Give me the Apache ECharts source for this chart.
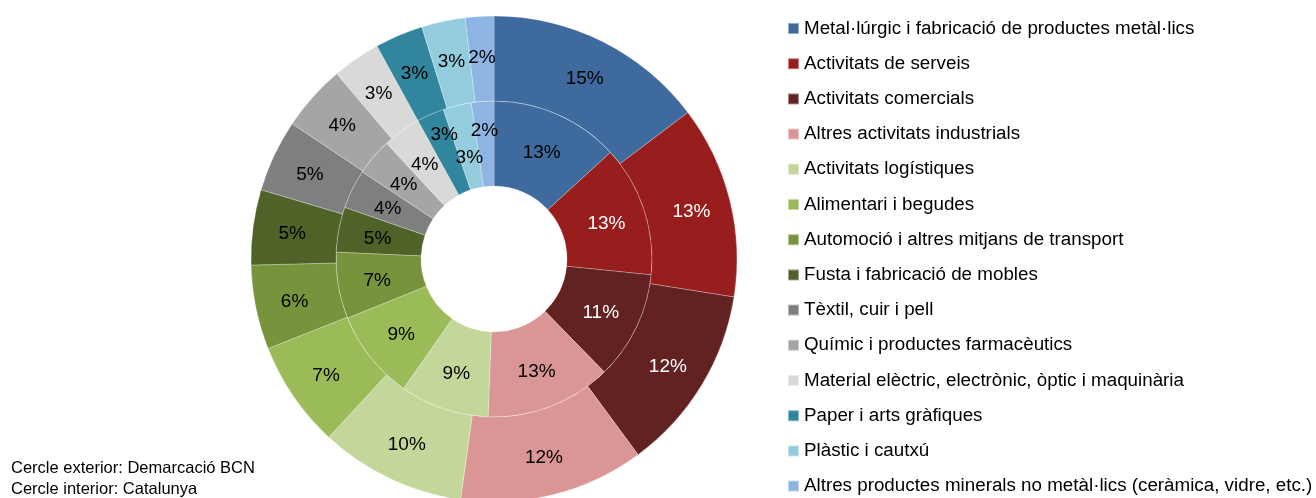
<!DOCTYPE html>
<html>
<head>
<meta charset="utf-8">
<script src="https://cdn.jsdelivr.net/npm/echarts@6/dist/echarts.min.js"></script>
<style>
  html, body { margin: 0; padding: 0; background: #fff; }
  #main { width: 1316px; height: 498px; }
</style>
</head>
<body>
<div id="main"></div>
<script>
// sectors (same order for both rings)
const sectors = [
  'Metal·lúrgic i fabricació de productes metàl·lics',
  'Activitats de serveis',
  'Activitats comercials',
  'Altres activitats industrials',
  'Activitats logístiques',
  'Alimentari i begudes',
  'Automoció i altres mitjans de transport',
  'Fusta i fabricació de mobles',
  'Tèxtil, cuir i pell',
  'Químic i productes farmacèutics',
  'Material elèctric, electrònic, òptic i maquinària',
  'Paper i arts gràfiques',
  'Plàstic i cautxú',
  'Altres productes minerals no metàl·lics (ceràmica, vidre, etc.)'
]
// outer ring: Demarcació BCN (%)
const outerBCN = [14.7, 12.8, 12.4, 12.3, 9.7, 7.1, 5.6, 5.0, 4.8, 4.4, 3.2, 3.2, 2.9, 1.9]
// inner ring: Catalunya (%)
const innerCat = [13.2, 13.4, 11.1, 12.9, 9.1, 9.2, 6.8, 4.6, 4.0, 3.8, 3.9, 2.8, 2.9, 2.3]

const palette = ['#3f6a9d', '#981d1d', '#622222', '#da9694', '#c4d79b', '#9bbb59', '#77933c',
  '#4f6228', '#7f7f7f', '#a5a5a5', '#d9d9d9', '#31859c', '#93cddd', '#8eb4e3']
const whiteLabels = [1, 2]
// the three thin inner slices get their labels staggered like in the original
const innerNudge = { 11: [-2, -16], 12: [3, 14], 13: [-1, -10] }

const FONT = '"Liberation Sans", Arial, sans-serif'

function ringData(values, nudge) {
  return values.map((v, i) => ({
    name: sectors[i],
    value: v,
    itemStyle: { color: palette[i] },
    label: {
      color: whiteLabels.includes(i) ? '#fff' : '#000',
      offset: (nudge && nudge[i]) || [0, 2]
    }
  }))
}

function ring(name, radius, values, nudge) {
  return {
    name: name,
    type: 'pie',
    center: [494, 259],
    radius: radius,
    startAngle: 90,
    clockwise: true,
    avoidLabelOverlap: false,
    minShowLabelAngle: 0,
    silent: true,
    label: {
      show: true,
      position: 'inside',
      fontFamily: FONT,
      fontSize: 19,
      formatter: (p) => Math.round(p.percent) + '%'
    },
    labelLayout: { hideOverlap: false },
    labelLine: { show: false },
    itemStyle: { borderColor: 'rgba(255,255,255,0.45)', borderWidth: 0.6 },
    data: ringData(values, nudge)
  }
}

const chart = echarts.init(document.getElementById('main'))
chart.setOption({
  animation: false,
  legend: {
    orient: 'vertical',
    left: 787,
    top: 19,
    padding: 0,
    itemWidth: 11,
    itemHeight: 11,
    itemGap: 16.2,
    icon: 'rect',
    selectedMode: false,
    data: sectors,
    textStyle: { fontFamily: FONT, fontSize: 18.8, color: '#000', lineHeight: 19 }
  },
  graphic: [
    { type: 'text', left: 11, top: 460, style: { text: 'Cercle exterior: Demarcació BCN', font: '16.5px ' + FONT, fill: '#000' } },
    { type: 'text', left: 11, top: 481, style: { text: 'Cercle interior: Catalunya', font: '16.5px ' + FONT, fill: '#000' } }
  ],
  series: [
    ring('Catalunya', [73, 158], innerCat, innerNudge),
    ring('Demarcació BCN', [158, 243], outerBCN, null)
  ]
})
</script>
</body>
</html>
